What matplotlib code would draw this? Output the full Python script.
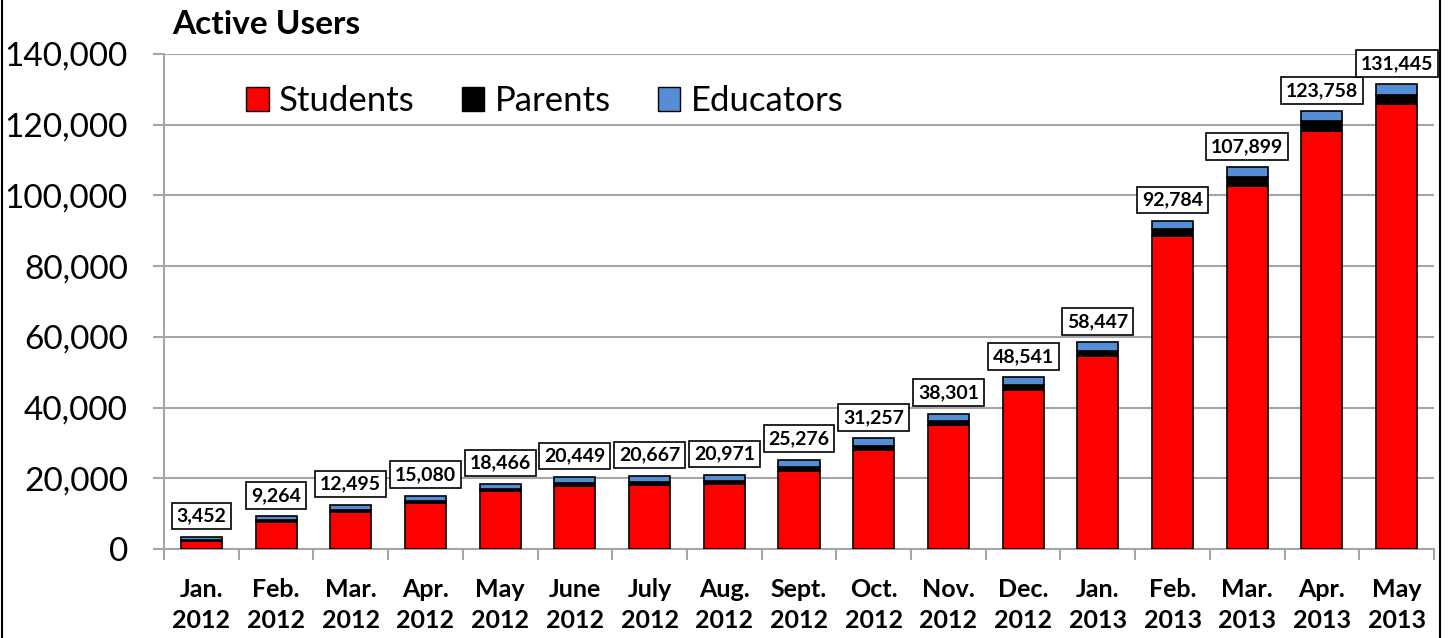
import matplotlib
matplotlib.use('Agg')
import matplotlib.pyplot as plt
import numpy as np
from matplotlib.patches import Patch

months = ['Jan.\n2012', 'Feb.\n2012', 'Mar.\n2012', 'Apr.\n2012', 'May\n2012', 'June\n2012',
          'July\n2012', 'Aug.\n2012', 'Sept.\n2012', 'Oct.\n2012', 'Nov.\n2012', 'Dec.\n2012',
          'Jan.\n2013', 'Feb.\n2013', 'Mar.\n2013', 'Apr.\n2013', 'May\n2013']
totals = [3452, 9264, 12495, 15080, 18466, 20449, 20667, 20971, 25276, 31257,
          38301, 48541, 58447, 92784, 107899, 123758, 131445]
parents = [250, 300, 500, 550, 600, 800, 850, 900, 1130, 1220,
           1130, 1300, 1400, 2000, 2450, 2640, 2640]
educators = [950, 1200, 1400, 1400, 1600, 1800, 1800, 1800, 2080, 2080,
             2170, 2200, 2500, 2300, 2740, 2830, 3000]
students = [t - p - e for t, p, e in zip(totals, parents, educators)]

plt.rcParams['font.family'] = ['Lato', 'DejaVu Sans']

fig = plt.figure(figsize=(14.48, 6.38), dpi=100, facecolor='white')
ax = fig.add_axes([164 / 1448, 1 - 549 / 638, (1434 - 164) / 1448, (549 - 54) / 638])

x = np.arange(len(months))
w = 0.55
ax.bar(x, students, w, color='#ff0000', edgecolor='black', linewidth=1.2, zorder=3, label='Students')
ax.bar(x, parents, w, bottom=students, color='black', edgecolor='black', linewidth=1.2, zorder=3, label='Parents')
bot2 = [s + p for s, p in zip(students, parents)]
ax.bar(x, educators, w, bottom=bot2, color='#558ed5', edgecolor='black', linewidth=1.2, zorder=3, label='Educators')

# boxed totals above each bar
for xi, t in zip(x, totals):
    ax.annotate(f'{t:,}', (xi, t), xytext=(0, 15), textcoords='offset points',
                ha='center', va='center', fontsize=14, fontweight='bold', zorder=5,
                bbox=dict(boxstyle='square,pad=0.25', facecolor='white', edgecolor='black', linewidth=1.2))

ax.set_xlim(-0.5, len(months) - 0.5)
ax.set_ylim(0, 140000)
ax.set_yticks(range(0, 140001, 20000))
ax.set_yticklabels([f'{v:,}' for v in range(0, 140001, 20000)], fontsize=24)
ax.yaxis.grid(True, color='#a6a6a6', linewidth=1.5, zorder=0)
ax.tick_params(axis='y', length=8, width=1.5, color='#a6a6a6', pad=18)

ax.set_xticks(x)
ax.set_xticklabels(months, fontsize=18, fontweight='bold', linespacing=1.4)
ax.set_xticks(np.arange(-0.5, len(months)), minor=True)
ax.tick_params(axis='x', which='major', length=0, pad=21)
ax.tick_params(axis='x', which='minor', length=8, width=1.5, color='#a6a6a6')

for s in ['top', 'right']:
    ax.spines[s].set_visible(False)
for s in ['left', 'bottom']:
    ax.spines[s].set_color('#a6a6a6')
    ax.spines[s].set_linewidth(1.5)

handles = [Patch(facecolor='#ff0000', edgecolor='black', label='Students'),
           Patch(facecolor='black', edgecolor='black', label='Parents'),
           Patch(facecolor='#558ed5', edgecolor='black', label='Educators')]
ax.legend(handles=handles, loc='upper left', bbox_to_anchor=(0.04, 1.0), ncol=3, frameon=False,
          fontsize=25, handlelength=0.65, handleheight=0.65, handletextpad=0.3, columnspacing=1.35)

fig.text(172 / 1448, 1 - 25 / 638, 'Active Users', fontsize=24, fontweight='bold', ha='left', va='center')

# outer frame lines
fig.add_artist(plt.Line2D([2 / 1448, 2 / 1448], [0, 1], color='black', linewidth=1.5, transform=fig.transFigure))
fig.add_artist(plt.Line2D([1440 / 1448, 1440 / 1448], [0, 1], color='black', linewidth=1.5, transform=fig.transFigure))

fig.savefig('out.png', dpi=100, facecolor='white')
